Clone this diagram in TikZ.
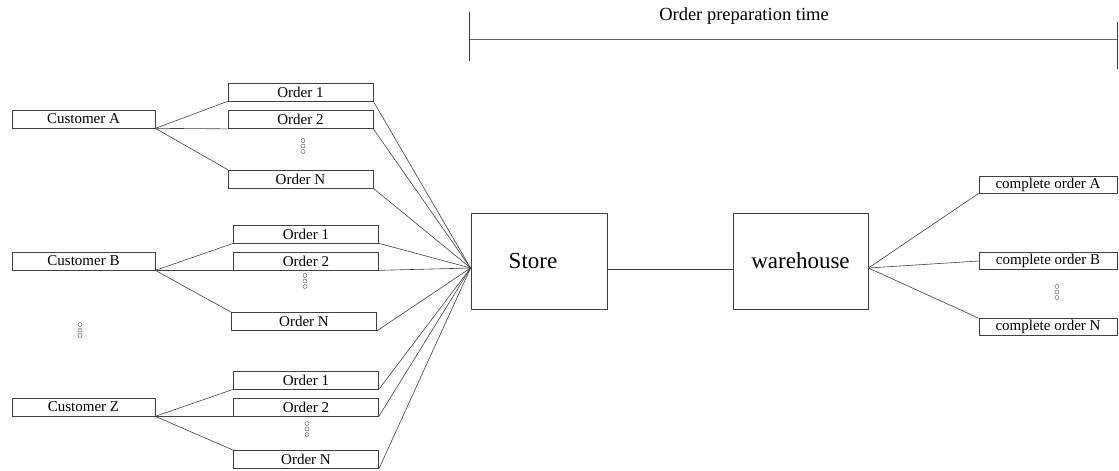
\documentclass[tikz,border=0pt]{standalone}
\usepackage{fontspec}
\setmainfont{Liberation Serif}

\begin{document}
\begin{tikzpicture}[x = 1pt, y = -1pt,
    box/.style = {draw = black!75, line width = .7pt, inner sep = 0pt,
      minimum width = 145pt, minimum height = 18pt, font = \fontsize{15}{15}\selectfont},
    big/.style = {draw = black!75, line width = .8pt, inner sep = 0pt,
      minimum width = 136pt, minimum height = 96pt, font = \fontsize{23}{23}\selectfont},
    link/.style = {draw = black!75, line width = .6pt}]
    \useasboundingbox (0,0) rectangle (1119,471);
    % Customers and their orders
    \node[box, minimum width = 143pt] (custA) at (83.5,119) {Customer A};
    \node[box] (ordA1) at (300.5,92) {Order 1};
    \node[box] (ordA2) at (300.5,119.5) {Order 2};
    \node[box] (ordAN) at (300.5,179) {Order N};
    \node[box, minimum width = 143pt] (custB) at (83.5,261) {Customer B};
    \node[box] (ordB1) at (306,234) {Order 1};
    \node[box] (ordB2) at (306,261) {Order 2};
    \node[box] (ordBN) at (304,321.5) {Order N};
    \node[box, minimum width = 143pt] (custZ) at (83.5,407) {Customer Z};
    \node[box] (ordZ1) at (306,380) {Order 1};
    \node[box] (ordZ2) at (306,407) {Order 2};
    \node[box] (ordZN) at (306,459.5) {Order N};
    % Store and warehouse
    \node[big] (store) at (539,261) {\hspace{-12pt}Store};
    \node[big, minimum width = 135pt] (ware) at (800.5,261) {warehouse};
    \coordinate (sin) at ([yshift = -7pt]store.west);
    \coordinate (sout) at ([yshift = -8pt]store.east);
    \coordinate (win) at ([yshift = -8pt]ware.west);
    \coordinate (wout) at ([yshift = -7pt]ware.east);
    \node[box, minimum width = 138pt, minimum height = 17pt] (compA) at (1048,184.5) {complete order A};
    \node[box, minimum width = 138pt, minimum height = 17pt] (compB) at (1048,261) {complete order B};
    \node[box, minimum width = 138pt, minimum height = 17pt] (compN) at (1048,327) {complete order N};
    % Links
    \foreach \c/\a/\b/\n in {custA/ordA1/ordA2/ordAN, custB/ordB1/ordB2/ordBN, custZ/ordZ1/ordZ2/ordZN} {
      \draw[link] (\c.south east) -- (\a.south west);
      \draw[link] (\c.south east) -- (\b.south west);
      \draw[link] (\c.south east) -- (\n.north west);
      \draw[link] (\a.south east) -- (sin);
      \draw[link] (\b.south east) -- (sin);
      \draw[link] (\n.south east) -- (sin);
    }
    \draw[link] (sout) -- (win);
    \draw[link] (wout) -- (compA.south west);
    \draw[link] (wout) -- (compB.west);
    \draw[link] (wout) -- (compN.north west);
    % Dots
    \foreach \x/\y in {303/146, 305/281, 80/330, 307/429, 1057/292}
      \foreach \k in {-5.5,0,5.5}
        \draw[black!60, line width = .5pt] (\x,\y+\k) circle (2pt);
    % Time span
    \coordinate (tl) at (469,39);
    \coordinate (tr) at (1117,39);
    \node[font = \fontsize{18.5}{18.5}\selectfont] (title) at (744,16) {Order preparation time};
    \draw[link, black!60] (tl) -- (tr);
    \draw[link] ([yshift = 27pt]tl) -- ([yshift = -22pt]tl);
    \draw[link] ([yshift = 17pt]tr) -- ([yshift = -30pt]tr);
  \end{tikzpicture}
\end{document}
